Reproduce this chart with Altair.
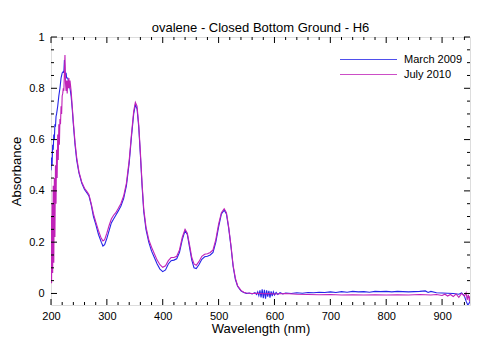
import altair as alt
import pandas as pd

# ---- data ----
march_nm = [200, 201, 202, 203, 204, 205, 206, 207, 208, 209, 210, 212, 214, 216, 218, 220, 222, 223, 224, 225,
            226, 227, 228, 230, 232, 234, 236, 238, 240, 243, 246, 250, 255, 260, 265, 268, 272, 276, 280, 285,
            290, 293, 296, 300, 304, 308, 312, 316, 320, 325, 330, 335, 340, 344, 348, 351, 354, 357, 360, 363,
            366, 370, 375, 380, 385, 390, 395, 400, 405, 410, 415, 420, 425, 430, 435, 440, 444, 448, 452, 456,
            460, 465, 470, 475, 480, 485, 490, 495, 500, 505, 510, 514, 518, 522, 526, 530, 534, 540, 545, 550,
            555, 560, 565, 568, 570, 572, 574, 576, 578, 580, 582, 584, 586, 588, 590, 592, 594, 596, 598, 600,
            603, 606, 610, 615, 620, 630, 640, 650, 660, 670, 680, 690, 700, 710, 720, 730, 740, 750, 760, 770,
            780, 790, 800, 810, 820, 830, 840, 850, 860, 870, 875, 880, 890, 900, 910, 920, 930, 935, 940, 943,
            946, 948, 950]
march_abs = [0.48, 0.53, 0.50, 0.58, 0.56, 0.62, 0.60, 0.66, 0.65, 0.69, 0.70, 0.73, 0.77, 0.80, 0.84, 0.86, 0.865, 0.86, 0.91, 0.86,
             0.85, 0.86, 0.84, 0.84, 0.82, 0.80, 0.77, 0.72, 0.66, 0.58, 0.52, 0.47, 0.43, 0.405, 0.39, 0.38, 0.345, 0.30, 0.27, 0.23,
             0.20, 0.185, 0.19, 0.215, 0.245, 0.275, 0.29, 0.305, 0.32, 0.34, 0.37, 0.42, 0.51, 0.61, 0.70, 0.735, 0.72, 0.65, 0.54, 0.42,
             0.32, 0.25, 0.20, 0.165, 0.14, 0.115, 0.095, 0.085, 0.092, 0.115, 0.128, 0.13, 0.135, 0.16, 0.21, 0.245, 0.23, 0.18, 0.13, 0.10,
             0.097, 0.113, 0.133, 0.143, 0.145, 0.15, 0.16, 0.20, 0.26, 0.31, 0.325, 0.31, 0.255, 0.185, 0.105, 0.055, 0.028, 0.01, 0.004, 0.0,
             0.002, -0.002, 0.003, -0.004, 0.006, -0.008, 0.012, -0.015, 0.016, -0.018, 0.014, -0.02, 0.012, -0.012, 0.01, -0.016, 0.008, -0.01, 0.006, -0.006,
             0.004, -0.004, 0.003, -0.002, 0.002, 0.0, 0.003, 0.001, 0.004, 0.003, 0.005, 0.004, 0.006, 0.004, 0.007, 0.005, 0.008, 0.006, 0.007, 0.005,
             0.008, 0.007, 0.008, 0.006, 0.008, 0.007, 0.006, 0.007, 0.008, 0.01, 0.004, 0.008, 0.003, 0.002, 0.001, 0.0, -0.003, 0.002, -0.01, -0.03,
             -0.045, -0.04, -0.03]

july_nm = [200, 201, 202, 203, 204, 205, 206, 207, 208, 209, 210, 211, 212, 213, 214, 215, 216, 217, 218, 219,
           220, 221, 222, 223, 224, 225, 226, 227, 228, 229, 230, 231, 232, 233, 234, 236, 238, 240, 243, 246,
           250, 255, 260, 265, 268, 272, 276, 280, 285, 290, 293, 296, 300, 304, 308, 312, 316, 320, 325, 330,
           335, 340, 344, 348, 351, 354, 357, 360, 363, 366, 370, 375, 380, 385, 390, 395, 400, 405, 410, 415,
           420, 425, 430, 435, 440, 444, 448, 452, 456, 460, 465, 470, 475, 480, 485, 490, 495, 500, 505, 510,
           514, 518, 522, 526, 530, 534, 540, 545, 550, 560, 570, 580, 590, 600, 620, 640, 660, 680, 700, 720,
           740, 760, 780, 800, 820, 840, 860, 880, 890, 900, 905, 910, 915, 920, 925, 930, 935, 940, 943, 945,
           947, 949, 950]
july_abs = [0.30, 0.04, 0.35, 0.08, 0.42, 0.12, 0.45, 0.22, 0.50, 0.35, 0.56, 0.45, 0.62, 0.52, 0.66, 0.58, 0.68, 0.66, 0.73, 0.70,
            0.77, 0.78, 0.80, 0.79, 0.86, 0.93, 0.82, 0.79, 0.83, 0.78, 0.83, 0.80, 0.84, 0.80, 0.83, 0.79, 0.73, 0.67, 0.59, 0.53,
            0.475, 0.435, 0.41, 0.395, 0.385, 0.35, 0.31, 0.28, 0.245, 0.215, 0.205, 0.21, 0.235, 0.265, 0.29, 0.305, 0.315, 0.33, 0.35, 0.38,
            0.43, 0.52, 0.62, 0.71, 0.745, 0.73, 0.66, 0.55, 0.43, 0.33, 0.26, 0.21, 0.18, 0.155, 0.13, 0.112, 0.102, 0.108, 0.128, 0.14,
            0.14, 0.145, 0.17, 0.22, 0.25, 0.235, 0.19, 0.14, 0.115, 0.11, 0.125, 0.145, 0.153, 0.155, 0.16, 0.17, 0.21, 0.27, 0.315, 0.33,
            0.315, 0.26, 0.19, 0.11, 0.06, 0.03, 0.012, 0.005, 0.002, 0.0, 0.001, -0.001, 0.0, -0.002, 0.0, -0.003, -0.004, -0.005, -0.004, -0.006,
            -0.005, -0.006, -0.005, -0.006, -0.005, -0.006, -0.004, -0.006, -0.004, -0.008, -0.003, -0.01, -0.004, -0.012, -0.002, -0.015, 0.0, -0.01, 0.003, -0.025,
            -0.005, -0.03, -0.01]

series_names = ["March 2009", "July 2010"]
series_colors = ["#2424e8", "#c022b8"]

x_major = [200, 300, 400, 500, 600, 700, 800, 900]
x_minor = [220, 240, 260, 280, 320, 340, 360, 380, 420, 440, 460, 480, 520, 540, 560, 580,
           620, 640, 660, 680, 720, 740, 760, 780, 820, 840, 860, 880, 920, 940]
y_major = [0, 0.2, 0.4, 0.6, 0.8, 1.0]
y_minor = [0.05, 0.1, 0.15, 0.25, 0.3, 0.35, 0.45, 0.5, 0.55, 0.65, 0.7, 0.75, 0.85, 0.9, 0.95]

W, H = 419, 268
FONT = "Liberation Sans"

df = pd.concat([
    pd.DataFrame({"nm": march_nm, "A": march_abs, "series": series_names[0]}),
    pd.DataFrame({"nm": july_nm, "A": july_abs, "series": series_names[1]}),
])

xs = alt.Scale(domain=[200, 950], nice=False, zero=False)
ys = alt.Scale(domain=[-0.045, 1.0], nice=False, zero=False)

x_axis = alt.Axis(
    values=x_major, format="d", title="Wavelength (nm)", ticks=False, domain=False, grid=False,
    labelFlush=False, labelPadding=5, labelFontSize=11, titleFontSize=13, titleFontWeight="normal",
    titlePadding=1, labelColor="black", titleColor="black", labelFont=FONT, titleFont=FONT)
y_axis = alt.Axis(
    values=y_major, format="~g", title="Absorbance", ticks=False, domain=False, grid=False,
    labelFlush=False, labelPadding=7, labelFontSize=11, titleFontSize=13, titleFontWeight="normal",
    titlePadding=5, labelColor="black", titleColor="black", labelFont=FONT, titleFont=FONT)

lines = alt.Chart(df).mark_line(strokeWidth=1.1, clip=True).encode(
    x=alt.X("nm:Q", scale=xs, axis=x_axis),
    y=alt.Y("A:Q", scale=ys, axis=y_axis),
    color=alt.Color("series:N", scale=alt.Scale(domain=series_names, range=series_colors),
                    sort=series_names,
                    legend=alt.Legend(title=None, orient="none", legendX=288, legendY=15,
                                      symbolType="stroke", symbolSize=3249, symbolStrokeWidth=1.2,
                                      clipHeight=15, rowPadding=0, labelFontSize=11, labelFont=FONT,
                                      labelColor="black", labelOffset=6, padding=0, symbolOpacity=0.8)),
)

def xticks(vals, length):
    d = pd.DataFrame({"v": vals})
    b = alt.Chart(d).mark_rule(color="black", strokeWidth=1)
    bottom = b.encode(x=alt.X("v:Q", scale=xs, axis=x_axis), y=alt.value(H), y2=alt.value(H - length))
    top = b.encode(x=alt.X("v:Q", scale=xs, axis=x_axis), y=alt.value(0), y2=alt.value(length))
    return [bottom, top]

def yticks(vals, length):
    d = pd.DataFrame({"v": vals})
    b = alt.Chart(d).mark_rule(color="black", strokeWidth=1)
    left = b.encode(y=alt.Y("v:Q", scale=ys, axis=y_axis), x=alt.value(0), x2=alt.value(length))
    right = b.encode(y=alt.Y("v:Q", scale=ys, axis=y_axis), x=alt.value(W), x2=alt.value(W - length))
    return [left, right]

layers = [lines] + xticks(x_major, 6) + xticks(x_minor, 3) + yticks(y_major, 6) + yticks(y_minor, 3)

chart = alt.layer(*layers).properties(
    width=W, height=H,
    title=alt.Title("ovalene - Closed Bottom Ground - H6", fontSize=13, fontWeight="normal",
                    font=FONT, color="black", offset=-4),
    padding={"left": 2, "top": 14, "right": 5, "bottom": 5},
).configure_view(stroke="black", strokeWidth=1).configure(background="white")

chart.save("out.html", embed_options={"renderer": "svg", "actions": False})
